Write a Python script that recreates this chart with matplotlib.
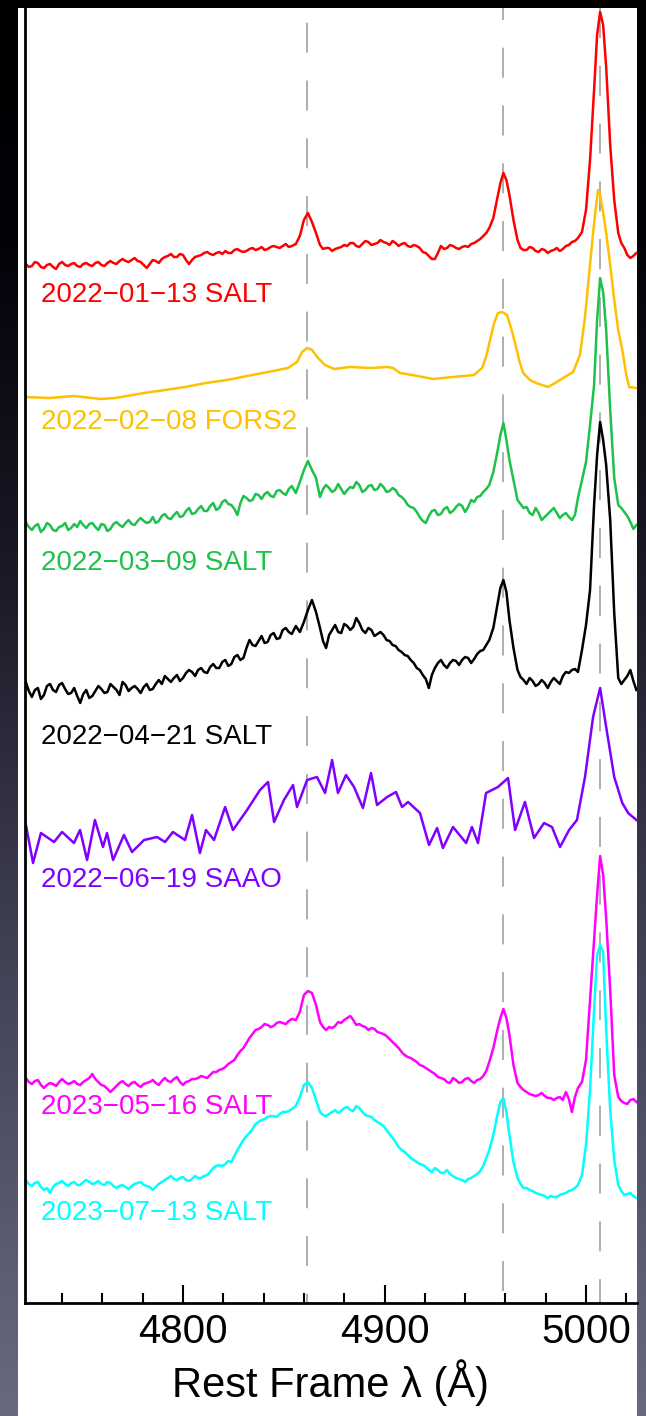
import numpy as np
from matplotlib import pyplot as plt
from matplotlib.patches import Rectangle
from matplotlib.ticker import MultipleLocator

plt.rcParams['font.family'] = ['Liberation Sans', 'DejaVu Sans']
plt.rcParams['lines.scale_dashes'] = False

# common wavelength grid (rest frame, Angstrom) of the SALT spectra
wave_salt = [
    4722, 4725, 4728, 4731, 4734, 4737, 4740, 4743, 4746, 4749, 4752,
    4755, 4758, 4761, 4764, 4767, 4770, 4773, 4776, 4779, 4782, 4785,
    4788, 4791, 4794, 4797, 4800, 4803, 4806, 4809, 4812, 4815, 4818,
    4821, 4824, 4827, 4830, 4833, 4836, 4839, 4842, 4845, 4848, 4851,
    4854, 4856, 4858, 4860, 4862, 4864, 4866, 4868,
    4871, 4874, 4877, 4880, 4883, 4886, 4889, 4892, 4895, 4898, 4901,
    4904, 4907, 4910, 4913, 4916, 4919, 4922, 4925, 4928, 4931, 4934,
    4937, 4940, 4943, 4946, 4949,
    4952, 4954, 4956, 4957.5, 4959, 4960.5, 4962, 4964, 4966,
    4969, 4972, 4975, 4978, 4981, 4984, 4987, 4990, 4993,
    4996, 4998, 5000, 5002, 5004, 5005.5, 5007, 5008.5, 5010, 5012, 5014, 5016,
    5019, 5022, 5025,
]
# extra SALT samples in between, in the continuum parts
wave_salt_mid = [
    4723.5, 4726.5, 4729.5, 4732.5, 4735.5, 4738.5, 4741.5, 4744.5, 4747.5, 4750.5, 4753.5,
    4756.5, 4759.5, 4762.5, 4765.5, 4768.5, 4771.5, 4774.5, 4777.5, 4780.5, 4783.5, 4786.5,
    4789.5, 4792.5, 4795.5, 4798.5, 4801.5, 4804.5, 4807.5, 4810.5, 4813.5, 4816.5, 4819.5,
    4822.5, 4825.5, 4828.5, 4831.5, 4834.5, 4837.5, 4840.5, 4843.5, 4846.5, 4849.5, 4852.5,
    4869.5, 4872.5, 4875.5, 4878.5, 4881.5, 4884.5, 4887.5, 4890.5, 4893.5, 4896.5, 4899.5,
    4902.5, 4905.5, 4908.5, 4911.5, 4914.5, 4917.5, 4920.5, 4923.5, 4926.5, 4929.5, 4932.5,
    4935.5, 4938.5, 4941.5, 4944.5, 4947.5, 4950.5,
    4967.5, 4970.5, 4973.5, 4976.5, 4979.5, 4982.5, 4985.5, 4988.5, 4991.5, 4994.5,
    5017.5, 5020.5, 5023.5,
]

# fluxes as plotted (arbitrary units, vertical offsets included)
flux_2022_01_13 = [
    10.39, 10.37, 10.40, 10.35, 10.39, 10.34, 10.41, 10.37, 10.40, 10.36, 10.40,
    10.37, 10.41, 10.37, 10.42, 10.39, 10.44, 10.41, 10.45, 10.41, 10.35, 10.43,
    10.40, 10.46, 10.49, 10.46, 10.48, 10.39, 10.46, 10.48, 10.51, 10.48, 10.51,
    10.52, 10.50, 10.54, 10.51, 10.54, 10.53, 10.56, 10.54, 10.57, 10.55, 10.59,
    10.57, 10.59, 10.67, 10.83, 10.90, 10.81, 10.70, 10.58,
    10.55, 10.52, 10.55, 10.58, 10.60, 10.57, 10.59, 10.61, 10.59, 10.63, 10.60,
    10.62, 10.57, 10.60, 10.56, 10.57, 10.51, 10.47, 10.44, 10.57, 10.55, 10.57,
    10.54, 10.57, 10.59, 10.62, 10.67,
    10.75, 10.85, 11.05, 11.20, 11.30, 11.23, 11.08, 10.83, 10.63,
    10.53, 10.56, 10.52, 10.54, 10.50, 10.53, 10.52, 10.57, 10.61,
    10.65, 10.71, 10.93, 11.43, 12.13, 12.68, 12.91, 12.78, 12.36, 11.58, 11.03, 10.70,
    10.55, 10.45, 10.50,
]
flux_2022_01_13_mid = [
    10.36, 10.41, 10.36, 10.38, 10.36, 10.39, 10.38, 10.39, 10.37, 10.39, 10.38,
    10.40, 10.38, 10.40, 10.40, 10.42, 10.42, 10.43, 10.42, 10.38, 10.39, 10.42,
    10.44, 10.47, 10.46, 10.49, 10.43, 10.43, 10.47, 10.50, 10.49, 10.50, 10.49,
    10.50, 10.53, 10.52, 10.52, 10.55, 10.54, 10.53, 10.56, 10.56, 10.57, 10.56,
    10.54, 10.55, 10.54, 10.56, 10.57, 10.60, 10.56, 10.62, 10.58, 10.60, 10.61,
    10.58, 10.60, 10.59, 10.57, 10.58, 10.55, 10.50, 10.44, 10.50, 10.54, 10.58,
    10.55, 10.56, 10.56, 10.60, 10.64, 10.70,
    10.55, 10.53, 10.55, 10.51, 10.53, 10.52, 10.55, 10.54, 10.58, 10.62,
    10.60, 10.48, 10.47,
]
flux_2022_03_09 = [
    7.81, 7.73, 7.79, 7.74, 7.78, 7.72, 7.77, 7.73, 7.79, 7.82, 7.75,
    7.80, 7.73, 7.78, 7.74, 7.81, 7.76, 7.83, 7.78, 7.85, 7.80, 7.86,
    7.82, 7.89, 7.84, 7.91, 7.87, 7.95, 7.90, 7.97, 7.92, 8.00, 7.95,
    8.03, 7.98, 7.88, 8.07, 8.02, 8.09, 8.04, 8.11, 8.06, 8.13, 8.08,
    8.17, 8.10, 8.21, 8.33, 8.42, 8.33, 8.25, 8.06,
    8.18, 8.11, 8.19, 8.09, 8.16, 8.21, 8.11, 8.17, 8.13, 8.19, 8.11,
    8.15, 8.08, 8.03, 7.96, 7.91, 7.82, 7.87, 7.93, 7.89, 7.96, 7.92,
    7.99, 7.91, 8.03, 8.06, 8.11,
    8.18, 8.31, 8.51, 8.68, 8.80, 8.63, 8.43, 8.23, 8.03,
    7.95, 7.90, 7.95, 7.83, 7.89, 7.95, 7.85, 7.90, 7.83,
    8.05, 8.23, 8.41, 8.78, 9.18, 9.83, 10.25, 10.11, 9.73, 8.93, 8.25, 7.98,
    7.91, 7.81, 7.78,
]
flux_2022_03_09_mid = [
    7.76, 7.77, 7.71, 7.80, 7.73, 7.76, 7.80, 7.75, 7.76, 7.78, 7.79,
    7.76, 7.79, 7.72, 7.79, 7.78, 7.80, 7.79, 7.82, 7.82, 7.81, 7.80,
    7.87, 7.85, 7.88, 7.86, 7.92, 7.89, 7.94, 7.92, 7.97, 7.93, 8.01,
    7.99, 7.94, 8.00, 8.05, 8.03, 8.08, 8.09, 8.07, 8.12, 8.10, 8.14,
    8.14, 8.15, 8.13, 8.14, 8.13, 8.15, 8.18, 8.13, 8.18, 8.14, 8.16,
    8.12, 8.13, 8.06, 7.98, 7.95, 7.86, 7.80, 7.92, 7.88, 7.94, 7.90,
    7.96, 7.97, 7.96, 8.01, 8.07, 8.14,
    7.99, 7.96, 7.88, 7.90, 7.86, 7.92, 7.90, 7.88, 7.86, 7.88,
    7.95, 7.87, 7.74,
]
flux_2022_04_21 = [
    6.21, 6.06, 6.15, 6.08, 6.19, 6.11, 6.20, 6.09, 6.15, 6.00, 6.13,
    6.07, 6.17, 6.10, 6.19, 6.13, 6.21, 6.12, 6.17, 6.10, 6.19, 6.14,
    6.23, 6.27, 6.21, 6.28, 6.25, 6.33, 6.27, 6.35, 6.30, 6.39, 6.35,
    6.43, 6.39, 6.48, 6.45, 6.63, 6.57, 6.67, 6.61, 6.70, 6.65, 6.75,
    6.69, 6.77, 6.71, 6.81, 6.93, 7.03, 6.91, 6.75,
    6.55, 6.73, 6.71, 6.79, 6.73, 6.85, 6.73, 6.75, 6.67, 6.71, 6.63,
    6.58, 6.53, 6.48, 6.43, 6.35, 6.28, 6.15, 6.35, 6.43, 6.35, 6.43,
    6.38, 6.46, 6.40, 6.49, 6.53,
    6.63, 6.75, 6.98, 7.15, 7.23, 7.11, 6.83, 6.55, 6.33,
    6.23, 6.25, 6.17, 6.23, 6.15, 6.25, 6.19, 6.31, 6.33,
    6.31, 6.53, 6.78, 7.13, 7.98, 8.48, 8.81, 8.63, 8.38, 7.83, 6.90, 6.25,
    6.23, 6.33, 6.13,
]
flux_2022_04_21_mid = [
    6.12, 6.13, 6.04, 6.17, 6.13, 6.18, 6.14, 6.10, 6.07, 6.09, 6.05,
    6.12, 6.14, 6.11, 6.16, 6.08, 6.18, 6.15, 6.14, 6.16, 6.13, 6.19,
    6.19, 6.24, 6.25, 6.22, 6.30, 6.31, 6.33, 6.31, 6.36, 6.35, 6.41,
    6.37, 6.46, 6.43, 6.55, 6.58, 6.62, 6.60, 6.68, 6.64, 6.73, 6.71,
    6.62, 6.68, 6.78, 6.70, 6.77, 6.76, 6.80, 6.70, 6.73, 6.69, 6.68,
    6.62, 6.57, 6.51, 6.47, 6.40, 6.33, 6.24, 6.28, 6.40, 6.38, 6.40,
    6.42, 6.43, 6.45, 6.44, 6.52, 6.58,
    6.26, 6.19, 6.22, 6.19, 6.20, 6.21, 6.22, 6.27, 6.30, 6.34,
    6.19, 6.27, 6.22,
]
flux_2023_05_16 = [
    2.25, 2.19, 2.23, 2.15, 2.20, 2.17, 2.24, 2.19, 2.22, 2.18, 2.23,
    2.29, 2.21, 2.17, 2.11, 2.17, 2.22, 2.17, 2.21, 2.16, 2.20, 2.23,
    2.18, 2.25, 2.21, 2.26, 2.18, 2.22, 2.24, 2.27, 2.25, 2.31, 2.33,
    2.36, 2.41, 2.48, 2.55, 2.65, 2.73, 2.76, 2.78, 2.77, 2.81, 2.79,
    2.84, 2.83, 2.91, 3.08, 3.12, 3.10, 2.98, 2.81,
    2.73, 2.75, 2.81, 2.83, 2.87, 2.78, 2.77, 2.73, 2.74, 2.70, 2.67,
    2.61, 2.55, 2.48, 2.45, 2.41, 2.37, 2.33, 2.29, 2.25, 2.21, 2.25,
    2.20, 2.24, 2.22, 2.23, 2.27,
    2.41, 2.55, 2.73, 2.85, 2.94, 2.85, 2.68, 2.38, 2.20,
    2.13, 2.09, 2.07, 2.10, 2.05, 2.03, 2.06, 2.11, 1.91,
    2.15, 2.21, 2.43, 3.03, 3.63, 4.08, 4.47, 4.28, 3.85, 3.13, 2.28, 2.06,
    2.00, 2.03, 2.01,
]
flux_2023_05_16_mid = [
    2.21, 2.22, 2.18, 2.18, 2.19, 2.21, 2.21, 2.20, 2.19, 2.21, 2.25,
    2.24, 2.18, 2.14, 2.14, 2.20, 2.19, 2.20, 2.18, 2.19, 2.21, 2.20,
    2.22, 2.22, 2.24, 2.21, 2.21, 2.24, 2.25, 2.26, 2.28, 2.31, 2.34,
    2.39, 2.43, 2.52, 2.60, 2.69, 2.74, 2.79, 2.76, 2.80, 2.80, 2.82,
    2.76, 2.76, 2.77, 2.80, 2.85, 2.83, 2.79, 2.76, 2.75, 2.71, 2.69,
    2.64, 2.58, 2.51, 2.46, 2.43, 2.38, 2.35, 2.31, 2.26, 2.24, 2.20,
    2.23, 2.21, 2.25, 2.20, 2.24, 2.32,
    2.16, 2.11, 2.08, 2.08, 2.07, 2.05, 2.05, 2.03, 2.04, 2.06,
    2.02, 1.99, 2.04,
]
flux_2023_07_13 = [
    1.23, 1.17, 1.21, 1.13, 1.10, 1.19, 1.22, 1.17, 1.21, 1.18, 1.23,
    1.19, 1.22, 1.18, 1.20, 1.15, 1.18, 1.14, 1.19, 1.21, 1.17, 1.13,
    1.19, 1.23, 1.27, 1.23, 1.26, 1.22, 1.27, 1.25, 1.28, 1.35, 1.38,
    1.39, 1.41, 1.53, 1.63, 1.70, 1.79, 1.83, 1.86, 1.87, 1.89, 1.91,
    1.94, 1.97, 2.06, 2.18, 2.21, 2.15, 2.03, 1.91,
    1.87, 1.91, 1.90, 1.95, 1.93, 1.97, 1.91, 1.87, 1.83, 1.79, 1.73,
    1.65, 1.56, 1.51, 1.45, 1.41, 1.38, 1.33, 1.35, 1.30, 1.33, 1.27,
    1.24, 1.21, 1.25, 1.29, 1.37,
    1.53, 1.68, 1.88, 2.01, 2.05, 1.91, 1.68, 1.41, 1.25,
    1.15, 1.13, 1.10, 1.08, 1.05, 1.06, 1.08, 1.10, 1.13,
    1.18, 1.28, 1.58, 2.13, 2.93, 3.48, 3.58, 3.51, 2.73, 1.93, 1.43, 1.18,
    1.08, 1.10, 1.05,
]
flux_2023_07_13_mid = [
    1.19, 1.20, 1.16, 1.15, 1.16, 1.20, 1.19, 1.20, 1.18, 1.21, 1.21,
    1.20, 1.19, 1.21, 1.17, 1.17, 1.16, 1.17, 1.20, 1.18, 1.16, 1.16,
    1.21, 1.25, 1.24, 1.25, 1.23, 1.24, 1.25, 1.27, 1.31, 1.37, 1.37,
    1.42, 1.47, 1.58, 1.67, 1.74, 1.81, 1.84, 1.87, 1.86, 1.91, 1.92,
    1.88, 1.89, 1.93, 1.92, 1.96, 1.92, 1.95, 1.88, 1.86, 1.81, 1.77,
    1.69, 1.61, 1.53, 1.48, 1.43, 1.39, 1.36, 1.31, 1.33, 1.30, 1.29,
    1.25, 1.23, 1.24, 1.27, 1.32, 1.45,
    1.19, 1.15, 1.12, 1.09, 1.07, 1.07, 1.06, 1.09, 1.12, 1.15,
    1.12, 1.09, 1.07,
]

# FORS2 spectrum (smooth, own sampling)
wave_fors2 = [
    4722, 4733.5, 4746, 4759, 4766.3, 4780.7, 4791.1, 4801.0, 4811.4, 4821.8,
    4831.8, 4842.2, 4852.1, 4856.6, 4859.1, 4861.6, 4864.1, 4867.0, 4870.5, 4875.0,
    4882.9, 4893.3, 4901.3, 4904.2, 4907.7, 4913.7, 4924.1, 4934.0, 4944.4, 4948.4,
    4950.4, 4952.4, 4954.4, 4956.3, 4958.3, 4960.8, 4962.8, 4964.8, 4966.8, 4968.8,
    4972.2, 4975.2, 4981.2, 4987.1, 4993.6, 4997.0, 4999.5, 5001.5, 5003.5, 5005.0,
    5006.0, 5007.0, 5008.5, 5010.0, 5012.0, 5014.0, 5016.0, 5018.0, 5020.0, 5021.4,
    5025,
]
flux_2022_02_08 = [
    9.06, 9.05, 9.07, 9.04, 9.05, 9.10, 9.13, 9.16, 9.20, 9.23,
    9.27, 9.31, 9.35, 9.41, 9.51, 9.55, 9.53, 9.45, 9.38, 9.34,
    9.36, 9.35, 9.36, 9.35, 9.30, 9.28, 9.24, 9.26, 9.28, 9.35,
    9.46, 9.63, 9.80, 9.90, 9.91, 9.88, 9.75, 9.60, 9.43, 9.30,
    9.23, 9.20, 9.16, 9.23, 9.31, 9.48, 9.86, 10.28, 10.70, 10.98,
    11.13, 11.08, 10.91, 10.70, 10.38, 10.03, 9.73, 9.53, 9.28, 9.16,
    9.15,
]

# SAAO spectrum (low resolution, own sampling)
wave_saao = [
    4721.6, 4725.6, 4729.5, 4736.0, 4740.0, 4745.9, 4748.9, 4752.4, 4756.3, 4760.3,
    4762.3, 4765.3, 4770.7, 4774.7, 4780.7, 4787.1, 4791.1, 4795.0, 4801.0, 4804.5,
    4808.4, 4811.4, 4815.4, 4820.9, 4824.8, 4831.8, 4838.2, 4842.2, 4845.2, 4850.1,
    4854.6, 4856.6, 4861.6, 4866.5, 4870.5, 4874.0, 4876.9, 4880.9, 4884.9, 4889.3,
    4893.3, 4896.3, 4901.3, 4905.7, 4908.7, 4911.7, 4917.6, 4922.1, 4926.1, 4929.0,
    4934.0, 4940.5, 4943.4, 4946.4, 4950.4, 4956.3, 4961.3, 4964.8, 4969.7, 4974.2,
    4979.2, 4983.1, 4987.1, 4991.6, 4995.5, 4999.5, 5003.5, 5007.0, 5010.0, 5014.0,
    5018.0, 5020.9, 5025.0,
]
flux_2022_06_19 = [
    4.83, 4.40, 4.70, 4.61, 4.71, 4.60, 4.73, 4.43, 4.83, 4.56,
    4.70, 4.43, 4.68, 4.51, 4.63, 4.66, 4.61, 4.71, 4.63, 4.88,
    4.50, 4.73, 4.63, 4.96, 4.73, 4.93, 5.13, 5.21, 4.81, 5.03,
    5.18, 4.96, 5.23, 5.26, 5.10, 5.43, 5.10, 5.28, 5.16, 4.95,
    5.30, 4.98, 5.06, 5.11, 4.96, 5.01, 4.90, 4.58, 4.75, 4.55,
    4.76, 4.60, 4.76, 4.60, 5.10, 5.16, 5.25, 4.73, 5.01, 4.65,
    4.80, 4.76, 4.56, 4.73, 4.83, 5.26, 5.86, 6.15, 5.76, 5.26,
    5.00, 4.90, 4.83,
]

labels = ['2022\u221201\u221213 SALT', '2022\u221202\u221208 FORS2', '2022\u221203\u221209 SALT',
          '2022\u221204\u221221 SALT', '2022\u221206\u221219 SAAO', '2023\u221205\u221216 SALT',
          '2023\u221207\u221213 SALT']
label_levels = [10.08, 8.81, 7.40, 5.66, 4.23, 1.96, 0.90]
colors = ['#ff0000', '#ffc000', '#1ec24a', '#000000', '#8000ff', '#ff00ff', '#00ffff']

# H-beta and [OIII] 4959, 5007
line_centres = [4861.3, 4958.9, 5006.8]

W, H = 646, 1416


def background(fig):
    """
    slide-like dark gradient with a white panel behind the plot
    """
    bg = fig.add_axes([0, 0, 1, 1], zorder=-10)
    rows = np.arange(H)
    stops_y = [0, 250, 600, 1000, H]
    shade = np.stack([np.interp(rows, stops_y, [0, 3, 28, 70, 105]),
                      np.interp(rows, stops_y, [0, 3, 28, 70, 105]),
                      np.interp(rows, stops_y, [0, 10, 42, 90, 128])], axis=1) / 255
    img = np.repeat(shade[:, None, :], 2, axis=1)
    bg.imshow(img, aspect='auto', extent=[0, W, H, 0])
    bg.add_patch(Rectangle((18, 8), 619, H - 8, color='white', lw=0))
    bg.set_xlim(0, W)
    bg.set_ylim(H, 0)
    bg.axis('off')


def merged(wave, flux, wave_mid, flux_mid):
    """
    puts the main and the in-between samples of a spectrum in wavelength order
    """
    w = np.concatenate([wave, wave_mid])
    f = np.concatenate([flux, flux_mid])
    order = np.argsort(w)
    return w[order], f[order]


fig = plt.figure(figsize=(W / 100, H / 100), dpi=100)
background(fig)

ax = fig.add_axes([25 / W, 113 / H, 612 / W, 1295 / H])
ax.set_facecolor('white')

offsets = [31, 13, 0]
for x0, off in zip(line_centres, offsets):
    ax.plot([x0, x0], [12.95, 0], color='#a8a8a8', lw=1.3,
            linestyle=(off, (21.6, 20)), zorder=1)

spectra = [
    merged(wave_salt, flux_2022_01_13, wave_salt_mid, flux_2022_01_13_mid),
    (wave_fors2, flux_2022_02_08),
    merged(wave_salt, flux_2022_03_09, wave_salt_mid, flux_2022_03_09_mid),
    merged(wave_salt, flux_2022_04_21, wave_salt_mid, flux_2022_04_21_mid),
    (wave_saao, flux_2022_06_19),
    merged(wave_salt, flux_2023_05_16, wave_salt_mid, flux_2023_05_16_mid),
    merged(wave_salt, flux_2023_07_13, wave_salt_mid, flux_2023_07_13_mid),
]
for (wave, flux), color, label, level in zip(spectra, colors, labels, label_levels):
    ax.plot(wave, flux, color=color, lw=1.8, zorder=2)
    ax.text(4729.5, level, label, color=color, fontsize=20, ha='left', va='center')

ax.set_xlim(4721.6, 5025.3)
ax.set_ylim(0, 12.95)
ax.xaxis.set_major_locator(MultipleLocator(100))
ax.xaxis.set_minor_locator(MultipleLocator(20))
ax.tick_params(axis='x', which='major', direction='in', length=13, width=1.5,
               labelsize=29, pad=7)
ax.tick_params(axis='x', which='minor', direction='in', length=7, width=1.5)
ax.set_yticks([])
for side in ['top', 'right']:
    ax.spines[side].set_visible(False)
for side in ['left', 'bottom']:
    ax.spines[side].set_linewidth(2.0)
ax.set_xlabel('Rest Frame \u03bb (\u00c5)', fontsize=30, labelpad=6)

fig.savefig('out.png', dpi=100)
